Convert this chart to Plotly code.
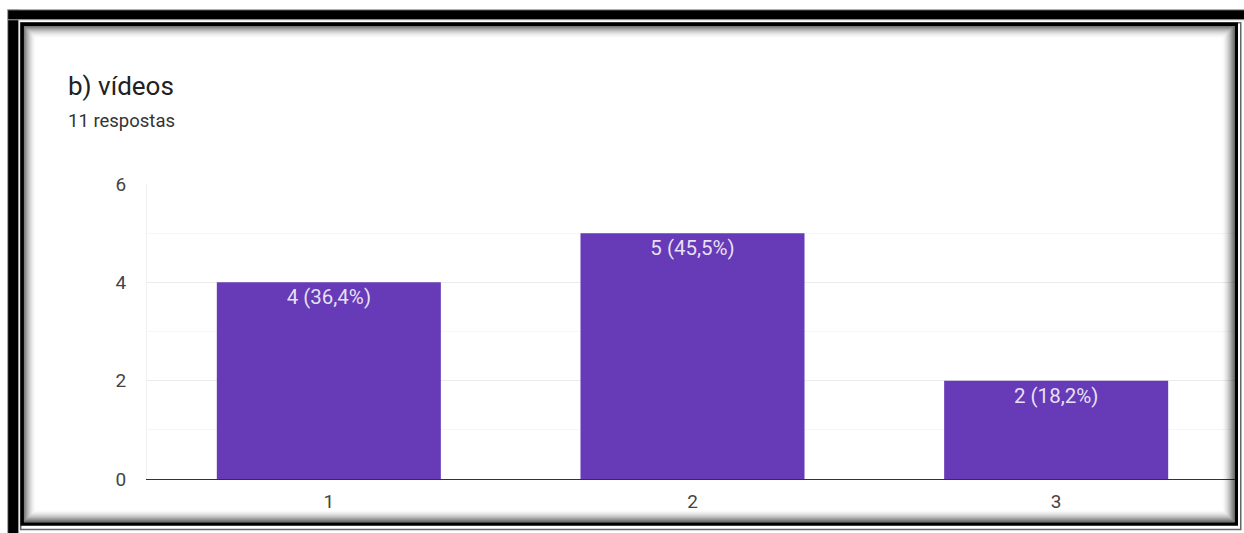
import plotly.graph_objects as go

# Survey answers for "b) vídeos"
categories = ["1", "2", "3"]
responses = [4, 5, 2]
title_text = "b) vídeos"
total_responses = sum(responses)
subtitle_text = f"{total_responses} respostas"
y_ticks = [0, 2, 4, 6]

# Labels "n (xx,x%)" built from the counts, decimal comma
bar_labels = [
    f"{v} ({v / total_responses * 100:.1f}%)".replace(".", ",") for v in responses
]

W, H = 1244, 533
L, R, T, B = 147.25, 1237.75, 183.5, 479.0  # plot area in pixels


def px(x):
    return (x - L) / (R - L)


def py(y):
    return (B - y) / (B - T)


FONT = "Roboto, Arial, sans-serif"
PURPLE = "#673ab7"

fig = go.Figure(
    go.Bar(
        x=categories,
        y=responses,
        width=0.616,
        marker=dict(color=PURPLE, line=dict(width=0)),
        text=bar_labels,
        textposition="inside",
        insidetextanchor="end",
        textangle=0,
        insidetextfont=dict(family=FONT, size=20.5, color="rgba(255,255,255,0.86)"),
        hoverinfo="skip",
    )
)

shapes = []


def rect(x0, y0, x1, y1, **kw):
    shapes.append(
        dict(type="rect", xref="paper", yref="paper",
             x0=px(x0), x1=px(x1), y0=py(y0), y1=py(y1), layer="above", **kw)
    )


# Outer thick frame (left and top bands)
rect(8, 9, 19, 560, fillcolor="black", line=dict(color="#aaaaaa", width=1))
rect(8, 9, 1270, 19, fillcolor="black", line=dict(color="#aaaaaa", width=1))

# Thin outer keyline
rect(21, 22, 1240.5, 529.5, line=dict(color="#666666", width=1.5))

# Inner shadow of the panel
n = 13
for i in range(n):
    a = 0.6 * (1 - i / n) ** 2
    rect(24.5 + i, 25.5 + i, 1233.5 - i, 521.5 - i,
         line=dict(color=f"rgba(0,0,0,{a:.3f})", width=1))

# Inner panel border
rect(22.5, 23.5, 1236, 524, line=dict(color="black", width=3.5))

annotations = [
    dict(text=title_text, xref="paper", yref="paper", x=px(66), y=py(85),
         xanchor="left", yanchor="middle", showarrow=False,
         font=dict(family=FONT, size=26, color="#202124")),
    dict(text=subtitle_text, xref="paper", yref="paper", x=px(66), y=py(120),
         xanchor="left", yanchor="middle", showarrow=False,
         font=dict(family=FONT, size=18.5, color="#333333")),
]

fig.update_layout(
    width=W,
    height=H,
    margin=dict(l=L, r=W - R, t=T, b=H - B, pad=0),
    paper_bgcolor="white",
    plot_bgcolor="white",
    showlegend=False,
    shapes=shapes,
    annotations=annotations,
    font=dict(family=FONT, color="#444444"),
    xaxis=dict(
        range=[-0.5, 2.5],
        showgrid=False,
        showline=True,
        linecolor="#333333",
        linewidth=1,
        ticks="",
        tickfont=dict(family=FONT, size=19, color="#444444"),
        ticklabelstandoff=5,
        zeroline=False,
        fixedrange=True,
    ),
    yaxis=dict(
        range=[0, 6],
        tickvals=y_ticks,
        showgrid=True,
        gridcolor="#ebebeb",
        gridwidth=1,
        minor=dict(dtick=1, showgrid=True, gridcolor="#f6f6f6", gridwidth=1),
        showline=True,
        linecolor="#f0f0f0",
        zeroline=False,
        ticks="",
        tickfont=dict(family=FONT, size=19, color="#444444"),
        ticklabelstandoff=16,
        fixedrange=True,
    ),
)

fig.write_html("out.html", config={"displayModeBar": False})
